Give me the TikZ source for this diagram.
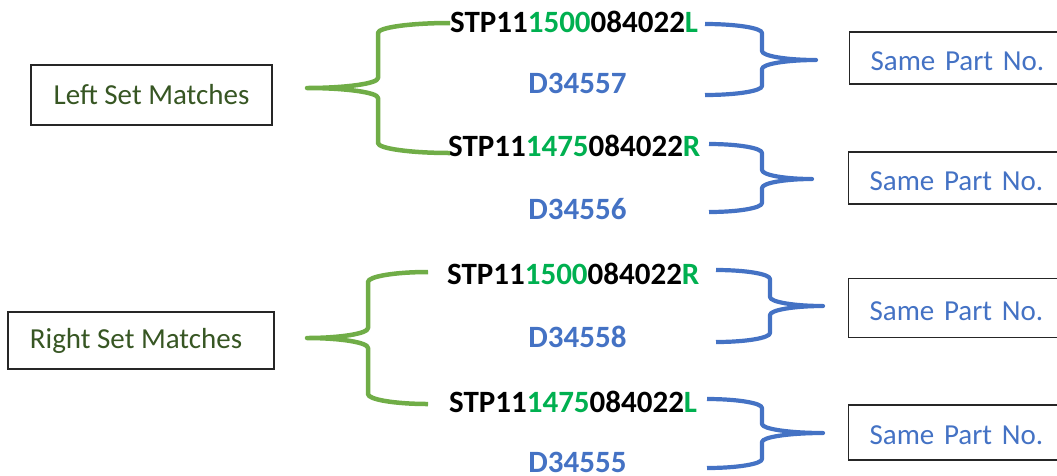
\documentclass[tikz,border=0pt]{standalone}
\usepackage{fontspec}
\setmainfont{Carlito}
\definecolor{brgreen}{HTML}{70AD47}
\definecolor{dkgreen}{HTML}{375623}
\definecolor{digreen}{HTML}{00B050}
\definecolor{pblue}{HTML}{4472C4}
\newcommand{\drawBraceShape}[8]{%
% #1 style, #2 tip x, #3 tip y, #4 vertical x, #5 end x, #6 top y, #7 bottom y, #8 ry
\draw[#1] (#5,#6) .. controls ({#5-0.552*(#5-#4)},#6) and (#4,{#6+0.448*#8}) .. (#4,{#6+#8})
  -- (#4,{#3-#8}) .. controls (#4,{#3-0.448*#8}) and ({#2+0.552*(#4-#2)},#3) .. (#2,#3)
  .. controls ({#2+0.552*(#4-#2)},#3) and (#4,{#3+0.448*#8}) .. (#4,{#3+#8})
  -- (#4,{#7-#8}) .. controls (#4,{#7-0.448*#8}) and ({#5-0.552*(#5-#4)},#7) .. (#5,#7);}
\newcommand{\partno}[3]{\textcolor{black}{STP11}\textcolor{digreen}{#1}\textcolor{black}{084022}\textcolor{digreen}{#2}}
\tikzset{
  setbox/.style={draw=black!85, line width=1.2pt, text=dkgreen, font=\fontsize{29}{34}\selectfont, inner sep=0pt},
  samebox/.style={draw=black!85, line width=1.2pt, text=pblue, font=\fontsize{29}{34}\selectfont, anchor=west, inner xsep=21pt, inner ysep=0pt, text width=220pt, align=left, text height=24pt, text depth=0pt},
  stp/.style={font=\bfseries\fontsize{31}{36}\selectfont, anchor=west, inner sep=0pt},
  dnum/.style={font=\bfseries\fontsize{31}{36}\selectfont, text=pblue, inner sep=0pt},
  gbrace/.style={draw=brgreen, line width=4.5pt, line join=round},
  bbrace/.style={draw=pblue, line width=4.2pt, line join=round}
}
\begin{document}
\begin{tikzpicture}[x=1pt,y=-1pt]
\useasboundingbox (0,0) rectangle (1057,475);
\clip (0,0) rectangle (1057,475);
% left boxes
\node[setbox, minimum width=241pt, minimum height=60pt] (leftset) at (151.5,95) {Left Set Matches};
\node[setbox, minimum width=266pt, minimum height=57pt] (rightset) at (141,340.5) {Right Set Matches\hspace*{10pt}};
% part numbers
\node[stp] (p1) at (450,22) {\partno{1500}{L}{}};
\node[dnum] (d1) at (577.5,83) {D34557};
\node[stp] (p2) at (448,146) {\partno{1475}{R}{}};
\node[dnum] (d2) at (577.5,209) {D34556};
\node[stp] (p3) at (447,274) {\partno{1500}{R}{}};
\node[dnum] (d3) at (577.5,337) {D34558};
\node[stp] (p4) at (449,402) {\partno{1475}{L}{}};
\node[dnum] (d4) at (577.5,462) {D34555};
% same part boxes
\node[samebox, minimum height=52pt] (s1) at (849,58) {Same Part No.};
\node[samebox, minimum height=52pt] (s2) at (848,178) {Same Part No.};
\node[samebox, minimum height=59pt] (s3) at (848,308) {Same Part No.};
\node[samebox, minimum height=55pt] (s4) at (848,432.5) {Same Part No.};
% green braces
\drawBraceShape{gbrace}{307}{88}{378}{450}{23}{153}{10}
\drawBraceShape{gbrace}{307}{338}{368}{428}{272}{404}{10}
% blue braces
\drawBraceShape{bbrace}{816}{60}{762}{705}{24}{95}{9}
\drawBraceShape{bbrace}{812}{179}{762}{709}{144}{212}{9}
\drawBraceShape{bbrace}{823}{306}{770}{716}{270}{342}{9}
\drawBraceShape{bbrace}{823}{433}{762}{707}{399}{468}{9}
\end{tikzpicture}
\end{document}
